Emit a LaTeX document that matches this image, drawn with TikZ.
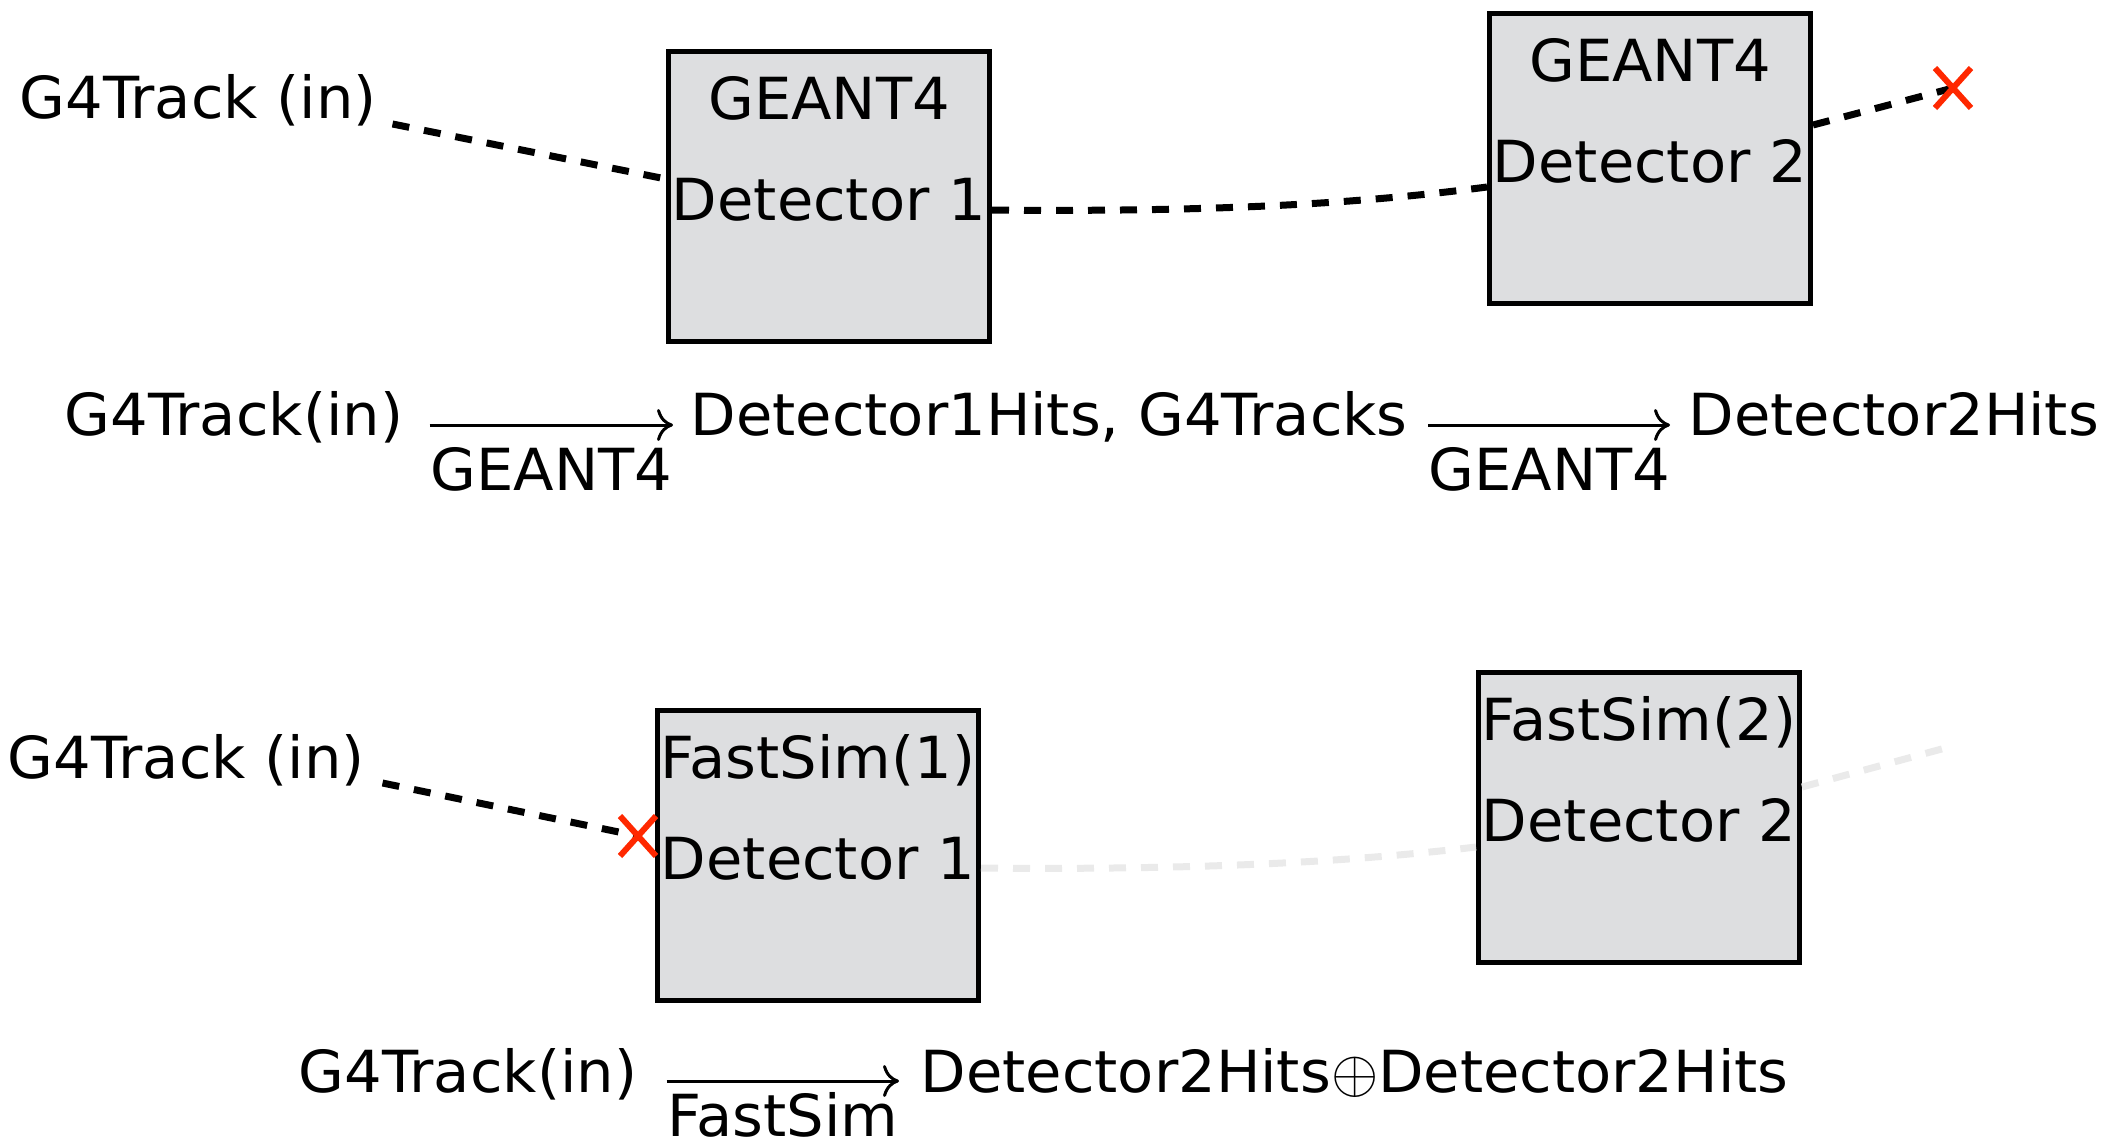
\documentclass[tikz,border=0pt]{standalone}
\usepackage{fontspec}
\setmainfont{DejaVu Sans}[FakeStretch=1.02]
\usetikzlibrary{arrows.meta}
\definecolor{boxgray}{RGB}{221,222,224}
\definecolor{stopred}{RGB}{255,40,0}
\definecolor{fadegray}{RGB}{234,234,234}

\begin{document}
\begin{tikzpicture}[x=0.1mm,y=-0.1mm,
  every node/.style={inner sep=0pt,font=\fontsize{16.5}{20}\selectfont},
  detbox/.style={draw,line width=0.5mm,fill=boxgray,minimum width=32.1mm,minimum height=29mm},
  track/.style={line width=0.7mm,dash pattern=on 1.7mm off 1.5mm},
  faded/.style={track,fadegray},
  kill/.style={stopred,line width=0.6mm},
  sim/.style={line width=0.3mm,-{To[length=1.6mm,width=3.2mm]}}]
\useasboundingbox (0,0) rectangle (2110,1147);

% full simulation: both detectors in GEANT4
\node[anchor=base west] (in1) at (19,118) {G4Track (in)};
\node[detbox] (det1) at (829,196) {};
\node[detbox] (det2) at (1650,158) {};
\node[anchor=base] (det1top) at ([yshift=7.7mm]det1.center) {GEANT4};
\node[anchor=base] (det1bot) at ([yshift=-2.4mm]det1.center) {Detector 1};
\node[anchor=base] (det2top) at ([yshift=7.7mm]det2.center) {GEANT4};
\node[anchor=base] (det2bot) at ([yshift=-2.4mm]det2.center) {Detector 2};
\coordinate (stop1) at (1953,88);
\draw[track] ([xshift=1.5mm,yshift=-0.6mm]in1.base east) -- ([yshift=1.7mm]det1.west);
\draw[track] ([yshift=-1.4mm]det1.east) .. controls (1200,212) and (1350,205) .. ([yshift=-2.9mm]det2.west);
\draw[track] ([yshift=3.3mm]det2.east) -- (stop1);
\draw[kill] (stop1) ++(-18,-20) -- ++(36,40);
\draw[kill] (stop1) ++(-18,20) -- ++(36,-40);

\node[anchor=base west] (eq1a) at (64,435) {G4Track(in)};
\node[anchor=base west] (eq1b) at (690,435) {Detector1Hits, G4Tracks};
\node[anchor=base west] (eq1c) at (1688,435) {Detector2Hits};
\draw[sim] ([xshift=2.6mm,yshift=1mm]eq1a.base east) -- ([xshift=-1.7mm,yshift=1mm]eq1b.base west)
  node[midway,anchor=base,yshift=-6.5mm] (lab1) {GEANT4};
\draw[sim] ([xshift=2mm,yshift=1mm]eq1b.base east) -- ([xshift=-1.8mm,yshift=1mm]eq1c.base west)
  node[midway,anchor=base,yshift=-6.5mm] (lab2) {GEANT4};

% fast simulation: track killed at detector 1
\node[anchor=base west] (in2) at (7,778) {G4Track (in)};
\node[detbox] (fast1) at (818,855) {};
\node[detbox] (fast2) at (1639,817) {};
\node[anchor=base] (fast1top) at ([yshift=7.7mm]fast1.center) {FastSim(1)};
\node[anchor=base] (fast1bot) at ([yshift=-2.4mm]fast1.center) {Detector 1};
\node[anchor=base] (fast2top) at ([yshift=7.7mm]fast2.center) {FastSim(2)};
\node[anchor=base] (fast2bot) at ([yshift=-2.4mm]fast2.center) {Detector 2};
\coordinate (stop2) at (638,836);
\coordinate (fade2) at (1949,747);
\draw[track] ([xshift=1.7mm,yshift=-0.5mm]in2.base east) -- (stop2);
\draw[faded] ([yshift=-1.3mm]fast1.east) .. controls (1190,870) and (1340,863) .. ([yshift=-3mm]fast2.west);
\draw[faded] ([yshift=3mm]fast2.east) -- (fade2);
\draw[kill] (stop2) ++(-18,-20) -- ++(36,40);
\draw[kill] (stop2) ++(-18,20) -- ++(36,-40);

\node[anchor=base west] (eq2a) at (298,1092) {G4Track(in)};
\node[anchor=base west] (eq2b) at (920,1092) {Detector2Hits$\oplus$Detector2Hits};
\draw[sim] ([xshift=2.9mm,yshift=1.1mm]eq2a.base east) -- ([xshift=-2.1mm,yshift=1.1mm]eq2b.base west)
  node[midway,anchor=base,yshift=-5.5mm] (lab3) {FastSim};
\end{tikzpicture}
\end{document}
